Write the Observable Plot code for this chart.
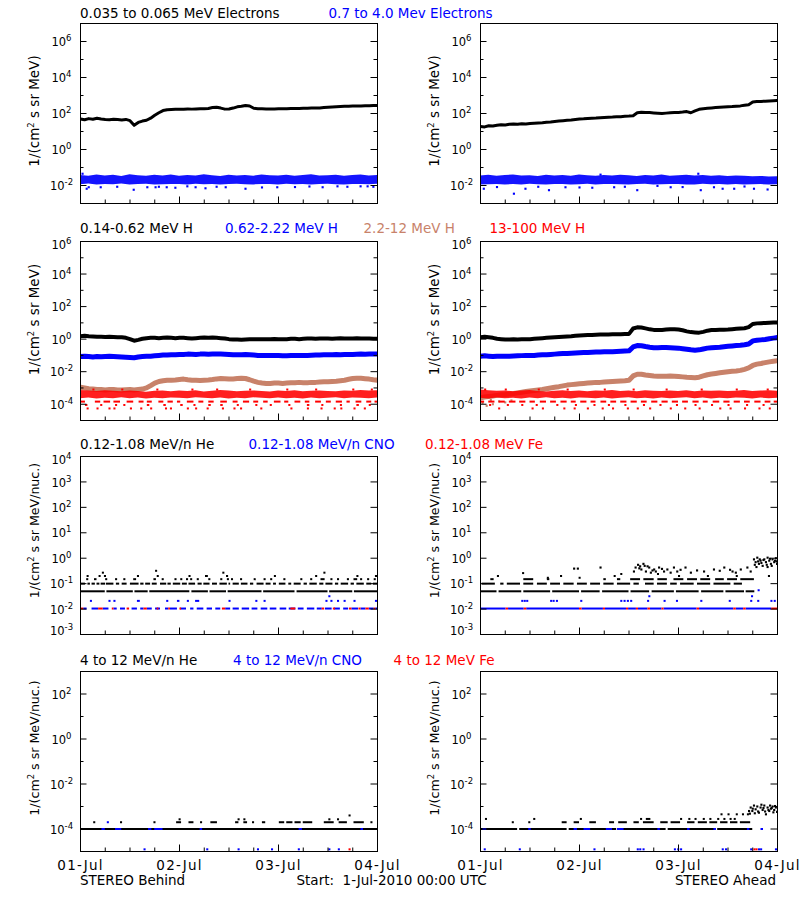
<!DOCTYPE html>
<html><head><meta charset="utf-8">
<script src="https://cdn.jsdelivr.net/npm/d3@7"></script>
<script src="https://cdn.jsdelivr.net/npm/@observablehq/plot@0.6"></script>
<style>
body{margin:0;background:#fff;}
#page{position:relative;width:800px;height:900px;overflow:hidden;background:#fff;font-family:"DejaVu Sans",sans-serif;font-size:13.5px;}
.t{position:absolute;white-space:pre;line-height:13.5px;}
</style></head><body><div id="page"></div>
<script>
// ---------- DATA ----------
// hourly values, 01-Jul 00:00 .. 04-Jul 00:00
const eLoBehind = [50,45,52,48,55,50,47,45,48,46,44,47,40,22,32,38,42,55,80,110,145,160,165,170,175,172,178,175,180,185,182,190,215,225,200,175,178,200,235,250,280,260,195,185,182,180,178,180,182,185,183,188,190,192,195,198,200,202,205,215,225,232,240,245,250,255,262,260,265,270,268,275,278];
const eLoAhead = [19,18,21,20,22,24,23,25,26,25,27,26,28,29,30,31,33,34,36,38,40,42,44,47,50,51,53,55,56,58,60,62,63,65,67,70,72,75,110,118,115,112,108,104,100,105,110,112,115,120,128,110,140,170,185,195,205,215,225,232,240,245,255,265,285,310,440,460,470,480,495,510,525];
// 2-hourly envelope of the 0.7-4.0 MeV electron band
const eHiBehindLo = [0.011,0.012,0.0105,0.0115,0.011,0.012,0.0108,0.0112,0.0118,0.0105,0.011,0.0115,0.0112,0.0108,0.0118,0.011,0.0115,0.0105,0.0112,0.0118,0.011,0.0108,0.0115,0.0112,0.0105,0.0118,0.011,0.0115,0.0108,0.0112,0.0118,0.011,0.0105,0.0115,0.0112,0.011,0.0118];
const eHiBehindHi = [0.036,0.033,0.038,0.034,0.037,0.032,0.039,0.035,0.033,0.037,0.034,0.038,0.033,0.036,0.034,0.039,0.035,0.032,0.037,0.034,0.036,0.033,0.038,0.035,0.034,0.037,0.033,0.036,0.039,0.034,0.035,0.037,0.033,0.036,0.038,0.034,0.036];
const eHiAheadLo = [0.0105,0.011,0.0115,0.0108,0.0112,0.0105,0.0118,0.011,0.0108,0.0115,0.0112,0.0105,0.011,0.0118,0.0108,0.0112,0.0115,0.011,0.0105,0.0112,0.0118,0.0108,0.011,0.0115,0.0112,0.0105,0.0108,0.0118,0.011,0.0112,0.0105,0.0115,0.0108,0.011,0.0112,0.0105,0.011];
const eHiAheadHi = [0.034,0.037,0.033,0.036,0.038,0.034,0.035,0.032,0.037,0.034,0.036,0.033,0.038,0.035,0.033,0.036,0.034,0.037,0.035,0.032,0.036,0.034,0.038,0.033,0.035,0.037,0.034,0.036,0.033,0.035,0.032,0.034,0.033,0.031,0.032,0.03,0.031];
// isolated points [hour, value]
const eHiBehindOut = [[0.5,0.045],[1.5,0.0066],[2,0.008],[4.9,0.008],[8.9,0.0085],[12.9,0.0058],[16.2,0.008],[18.2,0.008],[19,0.0085],[20.9,0.008],[23,0.0075],[25.9,0.009],[27.9,0.008],[30.3,0.007],[33,0.0085],[35.2,0.008],[40,0.0066],[44,0.0078],[47.7,0.008],[52,0.0082],[55.5,0.0088],[58.7,0.008],[62.3,0.009],[64.7,0.0085],[67.9,0.009],[69.6,0.009],[71,0.0085]];
const eHiAheadOut = [[0.8,0.0066],[4,0.0082],[8.1,0.0035],[10.9,0.0066],[14,0.0085],[16.6,0.0055],[20.6,0.008],[24,0.0078],[27.1,0.0075],[29.1,0.04],[32.4,0.008],[35,0.0085],[38,0.0055],[42.9,0.0095],[46.1,0.008],[49,0.0082],[52.8,0.045],[53.4,0.0055],[56.6,0.008],[58.7,0.0066],[61.5,0.0066],[64,0.0088],[66.3,0.0066],[69.6,0.006]];

// protons, hourly
const hLowB = [1.5,1.6,1.5,1.45,1.4,1.4,1.35,1.4,1.35,1.3,1.3,1.2,1.0,0.8,0.9,1.05,1.15,1.2,1.2,1.15,1.2,1.25,1.2,1.15,1.2,1.2,1.15,1.1,1.15,1.2,1.25,1.2,1.25,1.2,1.15,1.1,1.0,0.95,0.95,0.92,0.95,0.97,0.98,1.0,1.0,0.98,1.0,1.02,1.0,0.98,1.0,1.05,1.05,1.0,1.05,1.08,1.1,1.05,1.1,1.1,1.08,1.05,1.1,1.12,1.1,1.08,1.1,1.12,1.1,1.08,1.1,1.05,1.05];
const hMidB = [0.085,0.09,0.085,0.08,0.085,0.082,0.085,0.088,0.085,0.082,0.08,0.078,0.075,0.072,0.08,0.085,0.088,0.09,0.095,0.1,0.105,0.105,0.11,0.11,0.115,0.115,0.12,0.118,0.115,0.12,0.12,0.118,0.12,0.122,0.12,0.118,0.115,0.11,0.108,0.11,0.112,0.108,0.105,0.1,0.1,0.098,0.1,0.1,0.098,0.095,0.095,0.098,0.1,0.1,0.098,0.1,0.102,0.105,0.105,0.108,0.11,0.11,0.112,0.11,0.112,0.115,0.115,0.118,0.12,0.118,0.12,0.12,0.12];
const hHighB = [1.1e-3,1.0e-3,9e-4,8.5e-4,8e-4,8e-4,7.5e-4,8e-4,8e-4,7.5e-4,7.5e-4,7.8e-4,8e-4,7.5e-4,8e-4,8.5e-4,1e-3,1.4e-3,2e-3,2.5e-3,2.8e-3,3e-3,3e-3,3.1e-3,3.3e-3,3.5e-3,3.2e-3,3e-3,3e-3,2.9e-3,3e-3,3.1e-3,3.3e-3,3.6e-3,3.8e-3,3.7e-3,3.5e-3,3.6e-3,3.8e-3,4e-3,3.8e-3,3.2e-3,2.6e-3,2.2e-3,2e-3,1.9e-3,1.9e-3,2e-3,2e-3,1.9e-3,2e-3,2.1e-3,2.1e-3,2.2e-3,2.1e-3,2.1e-3,2.2e-3,2.2e-3,2.3e-3,2.4e-3,2.4e-3,2.5e-3,2.6e-3,2.8e-3,3e-3,3.4e-3,3.8e-3,4e-3,3.9e-3,3.7e-3,3.5e-3,3.2e-3,3e-3];
const hLowA = [1.3,1.4,1.3,1.2,1.05,1.0,0.95,0.95,0.97,0.95,0.98,1.0,1.0,1.05,1.1,1.15,1.2,1.25,1.3,1.35,1.4,1.45,1.5,1.6,1.7,1.75,1.8,1.8,1.85,1.9,1.9,1.95,2.0,2.0,2.0,2.05,2.1,4.5,5.3,5.2,4.6,4.0,3.7,3.6,3.7,3.9,4.1,4.1,3.9,3.5,3.0,2.7,2.6,2.5,2.8,3.3,3.6,3.7,3.8,3.8,3.9,4.1,4.3,4.5,4.7,5.5,8.5,9.3,9.6,9.8,10.1,10.4,10.6];
const hMidA = [0.09,0.095,0.09,0.085,0.09,0.09,0.088,0.09,0.092,0.095,0.097,0.1,0.1,0.1,0.105,0.11,0.11,0.115,0.12,0.125,0.13,0.13,0.135,0.14,0.145,0.15,0.15,0.155,0.16,0.16,0.165,0.17,0.17,0.175,0.18,0.185,0.19,0.33,0.4,0.39,0.35,0.32,0.3,0.3,0.31,0.31,0.3,0.29,0.28,0.26,0.24,0.22,0.21,0.22,0.25,0.28,0.3,0.31,0.32,0.34,0.36,0.38,0.4,0.42,0.45,0.5,0.78,0.85,0.9,0.95,1.05,1.15,1.25];
const hHighA = [2.5e-4,2.8e-4,3e-4,3.2e-4,3.5e-4,3.8e-4,4e-4,4.3e-4,4.6e-4,5e-4,5.5e-4,6e-4,6.5e-4,7e-4,7.5e-4,8e-4,9e-4,1e-3,1.1e-3,1.2e-3,1.35e-3,1.5e-3,1.6e-3,1.7e-3,1.8e-3,1.9e-3,2e-3,2.1e-3,2.2e-3,2.2e-3,2.3e-3,2.4e-3,2.5e-3,2.6e-3,2.7e-3,2.8e-3,3e-3,5.5e-3,7e-3,7e-3,6.3e-3,5.8e-3,5.4e-3,5.2e-3,5.2e-3,5.3e-3,5.4e-3,5.3e-3,5.1e-3,4.8e-3,4.5e-3,4.4e-3,4.3e-3,4.6e-3,5.5e-3,6.5e-3,7.2e-3,7.8e-3,8.5e-3,9.2e-3,0.01,0.0105,0.011,0.012,0.014,0.017,0.024,0.029,0.032,0.036,0.04,0.044,0.048];
const hHighAExtra = [[0.5,1.2e-4],[1.5,8e-5],[2.5,1.8e-4],[3,1e-4],[4.5,1.5e-4],[6,1.3e-4],[7.5,1.7e-4]];
// 13-100 MeV H: 2-hourly envelope of the dense band, plus quantized levels [value, [[from,to],...]]
const hTopBLo = [2.2e-4,2.4e-4,2.1e-4,2.3e-4,2.2e-4,2.5e-4,2.2e-4,2.4e-4,2.1e-4,2.3e-4,2.2e-4,2.4e-4,2.3e-4,2.2e-4,2.5e-4,2.3e-4,2.2e-4,2.4e-4,2.1e-4,2.3e-4,2.2e-4,2.5e-4,2.3e-4,2.2e-4,2.4e-4,2.2e-4,2.3e-4,2.1e-4,2.4e-4,2.2e-4,2.3e-4,2.5e-4,2.2e-4,2.4e-4,2.3e-4,2.2e-4,2.4e-4];
const hTopBHi = [7e-4,6.5e-4,6e-4,6.8e-4,6.2e-4,5.8e-4,6.5e-4,6e-4,5.5e-4,6.2e-4,6.6e-4,5.8e-4,6.4e-4,6e-4,6.8e-4,5.6e-4,6.2e-4,7e-4,6.4e-4,5.9e-4,6.3e-4,6.6e-4,6e-4,5.7e-4,6.4e-4,6.1e-4,6.8e-4,5.9e-4,6.2e-4,6.5e-4,6e-4,5.8e-4,6.6e-4,6.2e-4,6.9e-4,6.4e-4,6.8e-4];
const hTopALo = [2.3e-4,2.1e-4,2.4e-4,2.2e-4,2.3e-4,2.1e-4,2.4e-4,2.2e-4,2.5e-4,2.2e-4,2.3e-4,2.1e-4,2.4e-4,2.3e-4,2.2e-4,2.4e-4,2.1e-4,2.3e-4,2.5e-4,2.2e-4,2.3e-4,2.1e-4,2.4e-4,2.2e-4,2.3e-4,2.5e-4,2.2e-4,2.4e-4,2.1e-4,2.3e-4,2.2e-4,2.4e-4,2.3e-4,2.1e-4,2.4e-4,2.2e-4,2.3e-4];
const hTopAHi = [7.5e-4,6.8e-4,6.2e-4,6.6e-4,5.9e-4,6.4e-4,6.9e-4,6.1e-4,5.7e-4,6.3e-4,6.7e-4,6e-4,6.5e-4,5.8e-4,6.6e-4,6.2e-4,7e-4,6.1e-4,6.4e-4,5.8e-4,6.7e-4,6.3e-4,6e-4,6.5e-4,6.1e-4,6.8e-4,5.9e-4,6.4e-4,6.2e-4,6.6e-4,6e-4,6.3e-4,6.9e-4,6.1e-4,6.5e-4,6.7e-4,6.3e-4];
const hTopBQ = [
 [1.45e-4,[[0,1.2],[3.6,4.9],[5.7,7.3],[8.1,9.7],[11.3,12.9],[14.2,15.4],[16.2,17.4],[19,20.2],[21.2,22.5],[23.5,24.3],[25.9,27.5],[28.7,29.9],[31.1,32.4],[34,35.6],[37,38.2],[39.5,41],[42,43.2],[44.4,45.5],[47,48.6],[49.5,50.5],[52,53.4],[54.5,55.6],[57,58.4],[59.6,60.8],[62,63.5],[64.6,65.4],[66.8,68.2],[69.4,70.6],[71.4,72]]],
 [9e-5,[[1.2,1.8],[4.9,5.4],[8.5,9],[10.5,11],[16.2,16.8],[20.2,20.8],[24.3,24.9],[27.5,28],[31.1,31.7],[34,34.6],[38,38.5],[42.5,43],[46,46.5],[50.5,51],[55,55.6],[58.5,59],[63,63.5],[67,67.6],[70,70.5]]],
 [5.5e-5,[[1.6,2.1],[4,4.5],[6.9,7.4],[8.1,8.6],[12.1,12.6],[14.6,15.1],[17,17.5],[20.6,21.1],[21.8,22.3],[25.9,26.4],[27.9,28.4],[30.7,31.2],[34.4,34.9],[37.2,37.7],[38.8,39.3],[43.7,44.2],[51,51.5],[55,55.5],[58.3,58.8],[61.5,62],[63.1,63.6],[66.3,66.8],[68.8,69.3]]],
 [8e-4,[[3,3.5],[10,10.5],[18.5,19],[27,27.5],[33,33.5],[41,41.5],[50,50.5],[57,57.5],[66,66.5],[70.5,71]]]
];
const hTopAQ = [
 [1.45e-4,[[0,1],[2,3.5],[4.5,6],[7,8.6],[9.5,11],[12,13.3],[14.5,16],[17,18.4],[19.5,21],[22,23.2],[24.3,25.8],[26.8,28],[29.2,30.6],[31.6,33],[34,35.5],[36.5,38],[39,40.4],[41.5,43],[44,45.5],[46.5,48],[49,50.4],[51.5,53],[54,55.2],[56.4,58],[59,60.5],[61.5,63],[64,65.4],[66.5,68],[69,70.4],[71.2,72]]],
 [9e-5,[[2.2,2.7],[6.5,7],[10,10.5],[13.5,14],[18.5,19],[23,23.5],[27.5,28],[31,31.5],[35,35.5],[39.5,40],[43.5,44],[47.5,48],[52,52.5],[56,56.5],[60,60.5],[64.5,65],[68.5,69]]],
 [5.5e-5,[[4.4,4.9],[12.5,13],[15,15.5],[20.2,20.7],[22.7,23.2],[25.9,26.4],[29.5,30],[32,32.5],[35.6,36.1],[38,38.5],[41,41.5],[46,46.5],[49.5,50],[53,53.5],[58,58.5],[60.5,61],[64,64.5],[67.5,68],[70,70.5]]],
 [8e-4,[[1,1.5],[6,6.5],[14,14.5],[21,21.5],[30,30.5],[37,37.5],[45,45.5],[53.5,54],[62,62.5],[69.5,70]]]
];

// 0.12-1.08 MeV/n heavy ions: quantized levels [value, [[from,to],...]]
const heB = [
 [0.05,[[0,6],[6.4,12.8],[13.2,16.4],[16.8,26.5],[27,31],[31.4,35.4],[35.8,44],[44.4,52],[52.5,60],[60.4,66],[66.4,72]]],
 [0.1,[[0,1.2],[1.8,2.4],[2.8,3.6],[4,4.7],[5,6.1],[6.3,8.1],[8.7,9.5],[10.1,11.3],[12.1,14.2],[14.6,15.4],[15.8,17],[17.4,18.6],[19.4,20.9],[21.2,22],[22.5,24.3],[24.7,25.9],[26.3,27.9],[28.5,29.5],[29.9,31.4],[32,33.2],[33.8,35.6],[36,36.4],[37,38.5],[39,40.6],[41.2,42],[42.8,44.5],[45,46.2],[46.8,47.5],[48.2,49.8],[50.5,51.2],[51.8,53.5],[54.2,55],[55.6,57.4],[58,59],[59.5,61.2],[61.8,62.6],[63.2,65],[65.6,66.4],[67,68.8],[69.4,70.6],[71,72]]],
 [0.15,[[1.5,2],[3.4,4],[6.1,6.6],[8.5,9],[10.5,11],[12.9,13.6],[17.8,18.4],[19.8,20.3],[22.9,23.4],[24.3,24.8],[25.7,26.2],[26.7,27.2],[28.3,28.8],[31.1,31.6],[34,34.5],[35.6,36.1],[36.6,37.1],[38.8,39.3],[42.1,42.6],[44.5,45],[46.1,46.6],[49.3,49.8],[53.4,53.9],[55.8,56.3],[58.3,59.3],[60.7,61.2],[62.3,62.8],[64.7,65.2],[66.3,67.2],[67.9,68.4],[69.6,70.1],[71.2,71.7]]],
 [0.2,[[1.6,2.1],[4.5,5],[5.8,6.3],[13.8,14.3],[18.6,19.1],[26.3,26.8],[30.3,31],[35.4,35.9],[47,47.5],[57,57.5],[67,67.5],[71.5,72]]],
 [0.27,[[5.3,5.8],[34.5,35],[59,59.5]]],
 [0.32,[[18.2,18.7]]]
];
const cnoB = [
 [0.0105,[[0.8,1.6],[2.8,4.4],[5.5,6.9],[8.1,8.9],[9.7,10.9],[12.5,13.8],[14.6,15.4],[16.2,17.4],[18.2,19.4],[20.6,21.4],[21.8,23.5],[24.3,25.7],[26.7,27.5],[28.3,29.9],[30.7,32],[32.8,34],[35.2,36.4],[37,38.5],[39.2,41],[41.6,43],[43.8,45.4],[46,47.6],[48.4,50],[50.6,52.2],[52.8,54.2],[55,56.8],[57.4,58.6],[59.4,61],[61.6,63],[63.8,65],[65.8,67.4],[68,69.2],[70,71.2],[71.6,72]]],
 [0.021,[[2.4,2.9],[6.9,7.4],[8.1,8.6],[13.8,14.5],[20.9,21.4],[23.5,24.1],[25.9,26.4],[27.9,28.9],[36,36.5],[42.5,43],[44.5,45],[59.5,60],[60.7,61.2],[62.3,62.8],[63.9,64.4],[66.3,66.8],[71.5,72]]],
 [0.032,[[60.2,60.7]]]
];
const feB = [
 [0.0105,[[0,0.8],[4.4,5.5],[7.7,8.1],[11.3,11.9],[15.4,16.2],[18.6,19],[21.4,21.8],[24.1,24.5],[34.4,35.2],[51,52.2],[58.6,59.2],[61.3,61.8],[65.2,65.8],[67.5,68],[69.2,70],[71.2,71.6]]]
];
const heA = [
 [0.05,[[0,4],[4.5,10],[10.5,17],[17.5,24],[24.5,29],[29.6,36],[36.5,41],[41.6,47],[47.5,53],[53.6,59],[59.5,64],[64.4,66.5]]],
 [0.1,[[0.4,3.6],[4.9,5.7],[6.5,9.7],[10.5,12.9],[13.8,16.2],[17,19.4],[20.2,22.7],[23.5,25.9],[26.7,29.1],[29.9,32.4],[33.2,36.4],[37.2,38.5],[40,42.1],[42.9,45.3],[46.1,47.7],[48.5,51.8],[52.6,55.8],[56.6,60.7],[61.5,63.5]]],
 [0.15,[[2.5,3.3],[10.5,12.9],[16.2,16.8],[29.9,30.5],[33.2,34],[36.4,38.8],[39.6,42.1],[43,45.3],[46.9,49.3],[50.2,52.6],[53.4,55.8],[57,59.1],[59.9,62.3],[63.1,66.4]]],
 [0.17,[[16.2,16.7],[23.9,24.4]]],
 [0.2,[[4.1,4.6],[19.4,19.9],[32.4,32.9],[48,48.5],[55,55.5],[62,62.5],[69.8,70.3]]],
 [0.24,[[34,34.5],[42.9,43.4]]],
 [0.26,[[10.2,10.7]]]
];
const heAPts = [[22.7,0.39],[23.6,0.39],[29.1,0.43],[37.2,0.3],[37.6,0.43],[38.2,0.55],[38.5,0.4],[38.7,0.48],[39,0.36],[39.5,0.6],[39.8,0.5],[40.1,0.3],[40.5,0.48],[40.9,0.43],[41.3,0.27],[41.7,0.33],[42.1,0.36],[42.5,0.3],[43.3,0.43],[44,0.38],[44.5,0.3],[45.3,0.36],[46.1,0.27],[46.9,0.43],[47.7,0.3],[48.5,0.35],[49.7,0.43],[51,0.27],[52.5,0.33],[54.2,0.3],[56.6,0.36],[58,0.32],[59.1,0.43],[60.5,0.35],[61.1,0.3],[61.9,0.27],[63.1,0.36],[64.7,0.43],[65.5,0.3],[66.3,0.9],[66.5,0.55],[66.7,0.7],[66.9,0.45],[67.1,1.05],[67.3,0.75],[67.5,0.6],[67.7,0.9],[67.9,0.8],[68.1,0.65],[68.4,0.5],[68.6,0.85],[68.8,0.9],[69.2,0.7],[69.4,0.55],[69.6,0.45],[69.6,1.05],[70,0.8],[70.2,0.95],[70.4,0.6],[70.6,0.5],[70.8,0.9],[71.2,0.7],[71.4,0.8],[71.6,1.0],[71.8,0.75],[71.9,0.6]];
const cnoA = [
 [0.0105,[[0,6.2],[6.8,10.6],[11.2,24],[24.6,29.8],[30.3,35.4],[35.9,37.8],[38.3,40.6],[41.2,44],[44.5,52.5],[53.1,61.4],[62,63.8],[64.4,70.6]]],
 [0.021,[[10,10.5],[10.6,11.1],[11.2,11.7],[17,17.5],[17.6,18.1],[18.4,18.9],[24.3,24.8],[34,34.5],[34.8,35.3],[35.6,36.1],[36.4,36.9],[40.5,41],[44.5,45],[47.5,48],[53.4,53.9],[60.3,60.8],[65.5,66],[67.2,67.7],[70.4,70.9],[71.2,71.7]]],
 [0.032,[[40.8,41.3],[65.7,66.2]]],
 [0.055,[[67.3,67.8]]]
];
const feA = [
 [0.0105,[[6.2,6.8],[10.6,11.2],[24,24.6],[29.8,30.3],[35.4,35.9],[37.8,38.3],[40.6,41.2],[44,44.5],[52.5,53.1],[61.4,62],[63.8,64.4],[70.6,72]]]
];

// 4-12 MeV/n heavy ions
const he4B = [
 [1e-4,[[0,72]]],
 [2e-4,[[3.2,3.7],[9.7,10.2],[17.8,18.3],[23.3,24.5],[26.3,27.5],[29.1,29.6],[31.6,33.2],[37.6,38.4],[39.6,40.5],[41.7,42.2],[44.1,44.9],[48.2,49.5],[50,51.5],[52,53.5],[54,56.3],[59.1,61.5],[62.7,64.7],[66.3,68.8],[70.4,70.9]]],
 [2.7e-4,[[23.9,24.4],[38.2,38.7],[39.6,40.1],[60.2,60.7],[62.3,62.8]]],
 [4e-4,[[65.1,65.6]]]
];
const cno4B = [
 [1e-4,[[5.2,6],[8.5,10],[16.5,17.3],[18,20],[29,29.6],[53,53.8],[68,68.6]]],
 [2e-4,[[6.5,7]]],
 [1.25e-5,[[15.4,15.9],[30.6,31.1],[38.2,38.7],[42.9,43.4],[46.3,46.8],[52.8,53.3],[60.2,60.7],[62.5,63]]]
];
const fe4B = [[1.25e-5,[[65.1,65.6]]]];
const he4A = [
 [1e-4,[[0,9],[9.5,21],[21.5,33],[33.5,45],[45.5,57],[57.5,66]]],
 [2e-4,[[7.7,8.2],[11.7,12.2],[19.8,21],[22.7,24],[26.5,28.1],[31.3,32.5],[33.5,35.6],[37.2,38.5],[39.5,42.1],[43.7,45.5],[46.2,48.5],[50.2,52],[52.8,55],[55.6,57.5],[58.2,60],[60.6,62.4],[63,65.5]]],
 [2.8e-4,[[1.2,1.7],[12.9,13.4],[24.2,24.7],[38.8,39.3],[40.2,41.3],[48.5,49],[50.5,51],[52,52.5],[54,54.5],[55.6,56.1],[57.5,58],[59,59.5],[60.5,61],[61.5,62]]],
 [4.5e-4,[[58.3,58.8],[60,60.5],[62,62.5],[63.5,64],[64.7,65.2]]]
];
const he4APts = [[65.1,6.3e-4],[65.3,4.8e-4],[65.5,9e-4],[65.9,6.3e-4],[66,8e-4],[66.3,1.1e-3],[66.5,5e-4],[66.7,7.5e-4],[67.1,1e-3],[67.3,6e-4],[67.5,5.3e-4],[67.9,9e-4],[68.1,1.2e-3],[68.4,7e-4],[68.6,8.5e-4],[68.8,1.1e-3],[69,6e-4],[69.2,4.5e-4],[69.6,9e-4],[69.8,7e-4],[70,6.3e-4],[70.2,1.1e-3],[70.4,8e-4],[70.6,8.5e-4],[70.8,1e-3],[71,5.5e-4],[71.2,7e-4],[71.4,1.05e-3],[71.6,9e-4],[71.9,5.8e-4]];
const cno4A = [
 [1e-4,[[0.6,1.5],[11.7,12.3],[22.7,23.5],[25.1,26.7],[30.5,32],[33.2,34.8],[43,43.6],[50.2,50.8],[56.6,57.2],[64.7,65.3],[68,68.6]]],
 [1.25e-5,[[0.9,1.4],[9.4,9.9],[27.5,28],[38,38.5],[38.6,39.1],[39.4,39.9],[47,47.5],[47.8,48.3],[48.5,49],[58.6,59.1],[59.4,59.9],[65.5,66],[67.4,67.9],[67.9,68.4],[71.5,72]]]
];
const fe4A = [[1.25e-5,[[66.3,66.8],[66.8,67.3]]]];

// labels
const rowTitles = [
  [["0.035 to 0.065 MeV Electrons","black",80],["0.7 to 4.0 Mev Electrons","blue",328.5]],
  [["0.14-0.62 MeV H","black",80],["0.62-2.22 MeV H","blue",225],["2.2-12 MeV H","#c8826a",363.5],["13-100 MeV H","red",489.5]],
  [["0.12-1.08 MeV/n He","black",80],["0.12-1.08 MeV/n CNO","blue",248.5],["0.12-1.08 MeV Fe","red",425]],
  [["4 to 12 MeV/n He","black",80],["4 to 12 MeV/n CNO","blue",233],["4 to 12 MeV Fe","red",393.5]]
];
const yLabels = ["1/(cm^2 s sr MeV)","1/(cm^2 s sr MeV)","1/(cm^2 s sr MeV/nuc.)","1/(cm^2 s sr MeV/nuc.)"];
const yDomains = [[1e-3,1e7],[1e-5,1e6],[1e-3,1e4],[1e-5,1e3]];
const yMajor = [[1e-2,1,1e2,1e4,1e6],[1e-4,1e-2,1,1e2,1e4,1e6],[1e-3,1e-2,1e-1,1,10,100,1e3,1e4],[1e-4,1e-2,1,1e2]];
const yMinor = [[1e-1,10,1e3,1e5],[1e-3,1e-1,10,1e3,1e5],[],[1e-3,1e-1,10]];
const xMinorHours = [6,12,18,30,36,42,54,60,66];
const xMajorHours = [24,48];
const dayLabels = [0,24,48,72];

// ---------- HELPERS ----------
const T0 = Date.UTC(2010, 6, 1);
const t = h => new Date(T0 + h * 3600e3);
const hourly = a => a.map((v, i) => ({x: t(i), y: v}));
const band = (lo, hi) => lo.map((v, i) => ({x: t(2 * i), lo: v, hi: hi[i]}));
const pts = a => a.map(([h, v]) => ({x: t(h), y: v}));
const runs = L => L.flatMap(([v, r]) => r.map(([a, b]) => ({x1: t(a), x2: t(b), y: v})));

const SIENNA = "#c8826a";
const layout = [{top: 23, h: 180, labelDy: -2.5, labelSize: 13.5}, {top: 241, h: 179, labelDy: -11.5, labelSize: 13.5},
                {top: 456, h: 178, labelDy: -15, labelSize: 12.6}, {top: 671, h: 180, labelDy: -13.5, labelSize: 12.6}];
const ML = 80, MR = 23, W = 400, FW = W - ML - MR;

const page = document.getElementById("page");
function addText(str, x, base, color, right) {
  const d = document.createElement("div");
  d.className = "t";
  d.style.left = x + "px";
  d.style.top = (base - 11.4) + "px";
  d.style.color = color;
  if (right) d.style.transform = "translateX(-100%)";
  d.textContent = str;
  page.appendChild(d);
}
function supify(svg) {
  d3.select(svg).selectAll("text").each(function () {
    const s = this.textContent;
    if (!s.includes("^")) return;
    const parts = s.split(/\^(-?\d+)/);
    this.textContent = "";
    let raised = false;
    parts.forEach((p, i) => {
      if (!p) return;
      const ts = document.createElementNS("http://www.w3.org/2000/svg", "tspan");
      ts.textContent = p;
      if (i % 2) { ts.setAttribute("font-size", "8.5"); ts.setAttribute("dy", "-5"); raised = true; }
      else if (raised) { ts.setAttribute("dy", "5"); raised = false; }
      this.appendChild(ts);
    });
  });
}

function panel(row, col, spec) {
  const L = layout[row];
  const bottom = row === 3;
  const mt = 5, mb = bottom ? 40 : 5;
  const [lo, hi] = yDomains[row];
  const marks = [];
  for (const b of spec.bands || []) marks.push(Plot.areaY(b.data, {x: "x", y1: "lo", y2: "hi", fill: b.color, fillOpacity: b.opacity ?? 1, clip: true}));
  for (const l of spec.lines || []) marks.push(Plot.line(l.data, {x: "x", y: "y", stroke: l.color, strokeWidth: l.w, clip: true}));
  for (const d of spec.under || []) marks.push(Plot.dot(d.data, {x: "x", y: "y", fill: d.color, symbol: "square", r: 1.2, clip: true}));
  for (const b of spec.topBands || []) marks.push(Plot.areaY(b.data, {x: "x", y1: "lo", y2: "hi", fill: b.color, fillOpacity: b.opacity ?? 1, clip: true}));
  for (const q of spec.quant || []) marks.push(Plot.ruleY(q.data, {y: "y", x1: "x1", x2: "x2", stroke: q.color, strokeWidth: 2, clip: true}));
  for (const d of spec.dots || []) marks.push(Plot.dot(d.data, {x: "x", y: "y", fill: d.color, symbol: "square", r: 1.2, clip: true}));
  // inward tick marks
  marks.push(Plot.ruleX(xMinorHours, {x: t, insetTop: L.h - 3.5, stroke: "black"}));
  marks.push(Plot.ruleX(xMajorHours, {x: t, insetTop: L.h - 6.5, stroke: "black"}));
  marks.push(Plot.ruleY(yMajor[row], {y: d => d, insetRight: FW - 6.5, stroke: "black"}));
  marks.push(Plot.ruleY(yMajor[row], {y: d => d, insetLeft: FW - 6.5, stroke: "black"}));
  marks.push(Plot.ruleY(yMinor[row], {y: d => d, insetRight: FW - 3.5, stroke: "black"}));
  marks.push(Plot.ruleY(yMinor[row], {y: d => d, insetLeft: FW - 3.5, stroke: "black"}));
  marks.push(Plot.frame({stroke: "black"}));
  // tick labels: the ones at the ends of the axis are nudged inside the panel
  const fmt = d => "10^" + Math.round(Math.log10(d));
  const tl = {frameAnchor: "left", dx: -19, textAnchor: "middle", fontSize: 11.5, text: fmt, y: d => d};
  marks.push(Plot.text(yMajor[row].filter(d => d > lo && d < hi), {...tl, dy: 1}));
  marks.push(Plot.text(yMajor[row].filter(d => d >= hi), {...tl, dy: 4}));
  marks.push(Plot.text(yMajor[row].filter(d => d <= lo), {...tl, dy: -3.5}));
  marks.push(Plot.text([yLabels[row]], {text: d => d, frameAnchor: "left", dx: -45.5, dy: L.labelDy, rotate: -90, textAnchor: "middle", fontSize: L.labelSize}));
  if (bottom) marks.push(Plot.axisX(dayLabels.map(t), {tickFormat: d3.utcFormat("%d-%b"), tickSize: 0, tickPadding: 9, fontSize: 13.5}));
  const svg = Plot.plot({
    width: W, height: L.h + mt + mb,
    marginLeft: ML, marginRight: MR, marginTop: mt, marginBottom: mb,
    x: {type: "utc", domain: [t(0), t(72)], ...(bottom ? {} : {axis: null})},
    y: {type: "log", domain: yDomains[row], axis: null},
    style: {fontFamily: "'DejaVu Sans', sans-serif", color: "black", background: "transparent", overflow: "visible"},
    marks
  });
  supify(svg);
  if (bottom) d3.select(svg).selectAll('g[aria-label="x-axis tick label"] text').attr("letter-spacing", "1.2px");
  svg.style.position = "absolute";
  svg.style.left = (col * W) + "px";
  svg.style.top = (L.top - mt) + "px";
  page.appendChild(svg);
}

// Row 1: electrons
panel(0, 0, {
  bands: [{data: band(eHiBehindLo, eHiBehindHi), color: "blue", opacity: 0.92}],
  lines: [{data: hourly(eLoBehind), color: "black", w: 3}],
  dots: [{data: pts(eHiBehindOut), color: "blue"}]
});
panel(0, 1, {
  bands: [{data: band(eHiAheadLo, eHiAheadHi), color: "blue", opacity: 0.92}],
  lines: [{data: hourly(eLoAhead), color: "black", w: 3}],
  dots: [{data: pts(eHiAheadOut), color: "blue"}]
});
// Row 2: protons
panel(1, 0, {
  lines: [{data: hourly(hLowB), color: "black", w: 4}, {data: hourly(hMidB), color: "blue", w: 5}, {data: hourly(hHighB), color: SIENNA, w: 5}],
  topBands: [{data: band(hTopBLo, hTopBHi), color: "red", opacity: 0.88}],
  quant: [{data: runs(hTopBQ), color: "red"}]
});
panel(1, 1, {
  lines: [{data: hourly(hLowA), color: "black", w: 4}, {data: hourly(hMidA), color: "blue", w: 5}, {data: hourly(hHighA), color: SIENNA, w: 5}],
  under: [{data: pts(hHighAExtra), color: SIENNA}],
  topBands: [{data: band(hTopALo, hTopAHi), color: "red", opacity: 0.88}],
  quant: [{data: runs(hTopAQ), color: "red"}]
});
// Row 3: low-energy ions
panel(2, 0, {quant: [{data: runs(heB), color: "black"}, {data: runs(cnoB), color: "blue"}, {data: runs(feB), color: "red"}]});
panel(2, 1, {quant: [{data: runs(heA), color: "black"}, {data: runs(cnoA), color: "blue"}, {data: runs(feA), color: "red"}], dots: [{data: pts(heAPts), color: "black"}]});
// Row 4: high-energy ions
panel(3, 0, {quant: [{data: runs(he4B), color: "black"}, {data: runs(cno4B), color: "blue"}, {data: runs(fe4B), color: "red"}]});
panel(3, 1, {quant: [{data: runs(he4A), color: "black"}, {data: runs(cno4A), color: "blue"}, {data: runs(fe4A), color: "red"}], dots: [{data: pts(he4APts), color: "black"}]});

// titles and footer
const titleBase = [18.3, 233.5, 449.3, 665.5];
rowTitles.forEach((items, r) => items.forEach(([s, c, x]) => addText(s, x, titleBase[r], c)));
addText("STEREO Behind", 80, 885.7, "black");
addText("Start:  1-Jul-2010 00:00 UTC", 296.5, 885.7, "black");
addText("STEREO Ahead", 776, 885.7, "black", true);
</script></body></html>
